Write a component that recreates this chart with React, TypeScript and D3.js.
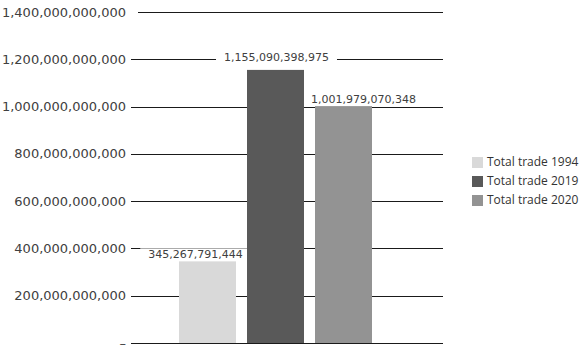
import * as d3 from "d3";
import React, { useEffect, useRef } from "react";

const width = 579;
const height = 351;

// data
const categories = ["Total trade 1994", "Total trade 2019", "Total trade 2020"];
const values = [345267791444, 1155090398975, 1001979070348];
const colors = ["#d9d9d9", "#595959", "#939393"];
const yTicks = [0, 200e9, 400e9, 600e9, 800e9, 1000e9, 1200e9, 1400e9];
// label nudges, as placed in the original
const labelDx = [-12, 1, 20];
const labelDy = [-3, -9, -3];

const fmt = d3.format(",.0f");

export default function App() {
  const ref = useRef<SVGSVGElement>(null);

  useEffect(() => {
    const svg = d3.select(ref.current);
    svg.selectAll("*").remove();

    const yScale = d3.scaleLinear().domain([0, 1400e9]).range([343, 12]);
    const xScale = d3.scaleBand<string>()
      .domain(categories)
      .range([179, 372])
      .paddingInner(0.162)
      .paddingOuter(0);

    // gridlines
    svg.append("g")
      .selectAll("line")
      .data(yTicks)
      .enter()
      .append("line")
      .attr("x1", (d) => (d === 1400e9 ? 138 : 131))
      .attr("x2", 443)
      .attr("y1", (d) => Math.round(yScale(d)) + 0.5)
      .attr("y2", (d) => Math.round(yScale(d)) + 0.5)
      .attr("stroke", "#1a1a1a")
      .attr("stroke-width", 1.2);

    // y tick labels
    svg.append("g")
      .selectAll("text")
      .data(yTicks)
      .enter()
      .append("text")
      .attr("x", 126)
      .attr("y", (d) => yScale(d) + 1)
      .attr("text-anchor", "end")
      .attr("dominant-baseline", "middle")
      .attr("font-family", "DejaVu Sans")
      .attr("font-size", 13)
      .attr("fill", "#404040")
      .text((d) => (d === 0 ? "–" : fmt(d)));

    const backing = svg.append("g");

    // bars
    svg.append("g")
      .selectAll("rect")
      .data(values)
      .enter()
      .append("rect")
      .attr("x", (d, i) => xScale(categories[i]) as number)
      .attr("y", (d) => yScale(d))
      .attr("width", xScale.bandwidth())
      .attr("height", (d) => yScale(0) - yScale(d))
      .attr("fill", (d, i) => colors[i]);

    // value labels
    const texts = svg.append("g")
      .selectAll("text")
      .data(values)
      .enter()
      .append("text")
      .attr("x", (d, i) => (xScale(categories[i]) as number) + xScale.bandwidth() / 2 + labelDx[i])
      .attr("y", (d, i) => yScale(d) + labelDy[i])
      .attr("text-anchor", "middle")
      .attr("font-family", "DejaVu Sans")
      .attr("font-size", 11)
      .attr("fill", "#404040")
      .text((d) => fmt(d));

    // white backing under labels so gridlines break around them
    texts.each(function () {
      const box = (this as SVGTextElement).getBBox();
      backing.append("rect")
        .attr("x", box.x - 8)
        .attr("y", box.y)
        .attr("width", box.width + 16)
        .attr("height", box.height - 3)
        .attr("fill", "#fff");
    });

    // legend
    const legend = svg.append("g")
      .selectAll("g")
      .data(categories)
      .enter()
      .append("g")
      .attr("transform", (d, i) => "translate(472," + (157 + i * 19) + ")");

    legend.append("rect")
      .attr("width", 11)
      .attr("height", 11)
      .attr("fill", (d, i) => colors[i]);

    legend.append("text")
      .attr("x", 15)
      .attr("y", 6)
      .attr("dominant-baseline", "middle")
      .attr("font-family", "Open Sans")
      .attr("font-size", 12)
      .attr("fill", "#333")
      .text((d) => d);
  }, []);

  return (
    <svg
      ref={ref}
      width={width}
      height={height}
      style={{ position: "absolute", left: 0, top: 0, background: "#fff" }}
    />
  );
}
